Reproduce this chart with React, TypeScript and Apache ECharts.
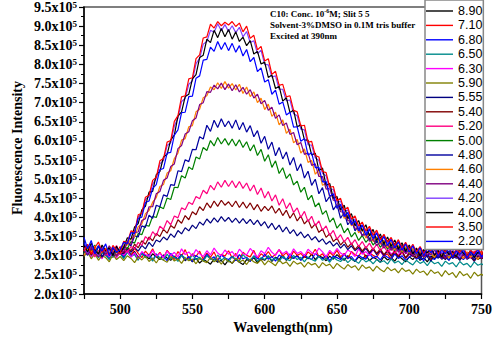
import { useEffect, useRef } from 'react';
import * as echarts from 'echarts';

// Wavelength sampling grid (nm) and value unit (values below are in units of 1e3 counts)
const START_NM = 475;
const STEP_NM = 2.5;
const UNIT = 1000;

const phLabels = ['8.90', '7.10', '6.80', '6.50', '6.30', '5.90', '5.55', '5.40', '5.20', '5.00', '4.80', '4.60', '4.40', '4.20', '4.00', '3.50', '2.20'];
const colors = ['#000000', '#ff0000', '#0000ff', '#008b8b', '#ff00ff', '#808000', '#000080', '#800000', '#ff0080', '#008000', '#0000a0', '#ff8000', '#800080', '#8040ff', '#000000', '#ff0000', '#0000ff'];

const yTicks = [200000, 950000, 50000]; // min, max, step
const xTicks = [475, 750, 25]; // min, max, step (labels every 50)

const s890 = [322,308,318,302,325,310,300,316,305,320,309,
 298,314,303,311,296,307,300,292,305,297,
 290,302,294,288,299,291,303,287,296,284,
 293,281,290,285,278,292,283,288,276,289,
 280,291,283,277,290,286,295,282,293,288,
 299,285,296,290,302,288,297,293,301,289,
 298,292,304,290,300,295,287,299,291,303,
 294,288,300,292,285,297,290,302,287,296,
 291,283,298,289,295,286,300,292,284,297,
 290,302,288,295,284,299,293,305,291,298,
 289,303,294,300,292,306,295,301,290,298,293];
const s710 = [312,328,305,319,300,322,310,296,318,307,324,
 303,315,298,320,306,295,312,301,318,297,
 309,294,314,302,290,311,299,316,293,305,
 298,312,291,307,296,310,288,304,299,313,
 294,306,290,309,301,297,314,292,305,298,
 311,296,303,316,299,308,293,312,301,306,
 295,310,302,317,298,305,291,309,300,314,
 297,306,292,311,303,298,315,294,307,301,
 296,312,299,305,290,308,301,315,293,304,
 298,311,295,306,300,318,296,303,292,309,
 301,314,297,306,293,310,299,305,296,312,300];
const s680 = [335,310,302,320,296,314,305,291,317,300,308,
 295,312,299,306,290,309,297,303,288,305,
 294,300,287,306,296,292,303,289,298,285,
 301,293,288,304,291,297,286,302,294,290,
 299,287,303,292,296,285,300,293,289,304,
 291,298,286,302,295,290,305,293,299,288,
 303,294,290,306,297,292,301,287,299,295,
 290,304,293,298,286,301,295,291,306,294,
 299,289,302,296,291,305,293,300,288,297,
 302,291,298,287,304,295,290,301,293,299,
 288,303,294,297,290,302,296,289,300,293,298];
const s650 = [305,318,299,312,294,308,301,290,314,297,306,
 292,309,298,303,288,306,295,300,286,302,
 293,289,304,291,297,285,301,294,288,303,
 290,296,286,300,292,288,302,289,295,284,
 298,291,287,303,293,289,299,286,295,290,
 300,288,294,285,298,291,287,301,290,296,
 284,297,290,286,299,288,293,283,296,289,
 285,294,282,291,287,280,293,284,289,279,
 290,283,287,278,292,281,286,277,289,282,
 276,288,280,285,274,287,279,283,272,286,
 278,282,271,285,276,280,270,284,275,279,273];
const s630 = [300,315,296,310,304,292,312,298,307,294,309,
 301,313,296,308,292,311,303,298,314,300,
 306,295,312,300,309,297,318,303,310,299,
 316,305,298,313,302,320,307,300,315,304,
 311,298,317,306,302,319,308,296,313,305,
 322,309,301,316,305,312,299,318,306,311,
 300,317,308,303,320,310,298,314,305,319,
 307,301,315,309,298,318,304,311,300,316,
 306,312,299,317,305,310,301,319,308,303,
 314,300,311,306,297,316,305,309,302,313,
 299,310,304,296,312,301,307,298,311,303,309];
const s590 = [298,310,292,305,288,301,295,284,303,290,298,
 287,300,293,282,297,289,299,285,294,281,
 296,288,283,298,286,292,280,295,287,291,
 279,293,286,282,296,284,290,278,292,285,
 281,294,283,289,277,291,284,280,290,276,
 287,281,274,289,279,284,272,286,278,282,
 270,283,276,280,268,282,274,278,266,280,
 272,265,277,269,274,262,276,267,271,260,
 273,264,258,270,261,266,255,268,259,263,
 252,265,256,260,249,263,254,258,246,261,
 250,256,243,259,248,253,241,257,247,252,244];
const s555 = [318,304,326,309,298,315,302,320,296,311,305,
 306,318,309,322,312,327,318,335,324,341,
 336,349,341,357,348,366,357,373,365,380,
 371,388,380,396,385,399,388,402,390,400,
 387,398,385,397,384,395,381,393,378,389,
 372,385,368,380,362,375,358,368,352,362,
 347,356,341,350,336,344,330,338,325,334,
 320,330,316,326,313,322,309,319,306,317,
 303,314,300,312,298,309,296,311,294,306,
 299,308,292,305,297,286,303,294,300,290,
 304,293,299,288,302,291,297,285,300,292,296];
const s540 = [310,324,302,317,308,296,313,305,321,299,315,
 308,322,313,330,321,339,330,349,339,358,
 350,369,359,379,372,394,385,405,394,415,
 407,428,418,438,425,443,429,445,432,441,
 428,443,426,440,424,438,420,434,416,429,
 418,430,411,424,405,419,398,412,391,404,
 383,394,372,383,361,370,348,358,337,346,
 328,339,322,333,316,327,312,324,309,320,
 306,318,303,314,300,312,298,309,295,307,
 301,294,308,297,303,290,306,296,301,292,
 305,295,300,289,303,294,298,287,302,293,297];
const s520 = [325,306,318,297,313,322,301,316,308,327,303,
 317,309,324,318,335,327,350,341,363,352,
 377,369,392,381,404,399,425,420,440,434,
 455,449,471,462,484,472,493,479,497,481,
 496,478,494,476,490,469,485,460,477,451,
 468,443,459,432,449,423,438,413,425,400,
 416,389,403,378,391,366,378,353,366,343,
 355,336,348,329,342,324,337,320,333,316,
 330,313,325,309,322,306,320,304,317,310,
 302,318,307,314,299,316,305,311,297,313,
 304,309,296,315,303,307,294,312,301,306,298];
const s500 = [308,322,311,328,300,316,305,319,296,313,307,
 324,318,337,333,358,355,380,377,403,400,
 428,423,451,447,479,478,509,503,532,525,
 558,553,583,575,601,587,609,592,606,589,
 605,587,603,583,598,574,590,562,578,547,
 564,531,548,515,530,502,514,485,495,466,
 479,446,458,428,438,408,418,388,399,372,
 384,360,372,349,361,340,353,335,346,328,
 340,322,334,317,330,313,326,309,322,306,
 318,302,314,299,311,305,296,313,301,308,
 295,310,303,298,312,300,306,293,309,297,304];
const s480 = [314,301,320,308,326,297,312,318,303,321,310,
 318,334,326,352,349,378,374,406,398,432,
 428,459,455,486,484,522,520,551,546,578,
 577,611,605,641,625,654,635,658,637,652,
 633,655,629,648,623,640,611,627,594,612,
 578,597,561,583,553,571,537,557,522,540,
 503,521,484,500,462,478,441,455,420,434,
 398,413,381,394,365,378,352,367,343,356,
 334,349,326,340,319,333,314,327,309,322,
 305,318,300,314,297,311,302,294,309,298,
 312,296,305,291,308,299,303,289,306,295,301];
const s460 = [302,317,309,325,298,311,320,306,314,299,318,
 326,328,345,350,376,383,410,418,440,452,
 481,486,516,522,554,568,602,606,637,640,
 676,683,713,718,741,734,752,737,755,738,
 750,733,748,724,741,716,728,700,712,682,
 696,664,675,642,655,620,631,595,604,568,
 579,544,549,513,524,484,489,454,460,425,
 432,398,405,378,386,360,371,346,359,337,
 349,330,341,321,335,316,328,311,324,307,
 319,303,315,299,312,306,296,313,301,309,
 294,311,300,306,292,309,297,303,290,307,298];
const s440 = [316,303,322,308,297,319,305,326,311,300,314,
 310,336,329,361,362,392,397,428,428,462,
 468,497,503,533,540,580,588,618,624,653,
 660,695,700,729,727,746,736,751,734,749,
 731,747,728,740,722,734,712,722,697,706,
 680,688,659,668,640,647,617,622,590,596,
 565,569,536,540,507,507,474,476,445,443,
 415,414,392,389,372,371,353,356,338,343,
 327,336,320,330,314,326,309,321,305,316,
 300,313,306,297,310,302,315,299,307,293,
 308,300,312,296,304,291,310,298,303,294,306];
const s420 = [320,307,329,312,301,324,309,316,298,322,311,
 336,333,361,362,402,410,447,455,487,502,
 540,549,588,595,639,660,703,711,748,757,
 802,816,853,860,889,884,906,888,904,886,
 901,883,897,872,886,857,862,828,837,800,
 799,767,770,735,735,705,707,671,666,631,
 629,590,589,556,549,515,509,475,473,440,
 443,415,420,392,396,375,381,362,372,352,
 363,340,351,333,344,325,337,318,331,312,
 326,308,322,305,319,311,302,316,307,313,
 300,315,306,296,311,303,309,294,305,299,307];
const s400 = [326,310,333,315,304,328,312,321,300,325,308,
 322,347,343,375,384,420,429,466,468,512,
 520,558,565,603,615,665,676,716,722,762,
 773,818,824,866,857,889,870,894,872,891,
 866,885,860,871,849,862,827,834,801,806,
 766,772,737,743,704,713,674,681,637,642,
 603,602,563,568,523,529,484,489,450,455,
 420,432,397,410,378,392,364,381,352,369,
 340,357,331,349,324,341,318,334,312,328,
 305,320,299,316,307,322,301,314,296,318,
 303,311,297,319,306,300,315,295,309,302,312];
const s350 = [312,330,305,321,336,309,318,302,327,314,306,
 338,334,365,362,407,411,453,458,497,505,
 548,554,597,601,651,666,715,718,762,765,
 815,825,869,872,905,895,912,901,910,903,
 912,899,908,885,900,868,876,838,847,809,
 815,774,782,745,748,715,718,680,676,639,
 641,597,599,562,558,520,517,479,481,444,
 450,419,427,396,404,378,388,365,377,354,
 367,342,356,336,348,326,342,320,335,315,
 330,310,324,306,321,312,327,303,318,309,
 322,301,316,308,325,299,314,306,320,302,311];
const s220 = [348,318,340,305,326,312,331,300,322,309,316,
 335,332,360,358,398,401,439,443,476,486,
 525,528,568,570,615,629,674,675,716,717,
 764,770,811,813,845,834,860,839,857,836,
 855,832,849,822,839,807,818,781,791,754,
 760,722,733,696,702,668,675,636,637,599,
 606,563,569,530,531,493,494,455,462,424,
 434,402,413,381,392,365,380,354,369,344,
 359,334,350,327,342,320,336,314,331,309,
 326,304,321,300,318,308,324,298,315,305,
 320,296,313,303,317,294,310,301,316,297,308];

const seriesValues = [s890, s710, s680, s650, s630, s590, s555, s540, s520, s500, s480, s460, s440, s420, s400, s350, s220];

const SERIF = '"Liberation Serif", "Times New Roman", serif';
const SANS = '"Liberation Sans", Arial, sans-serif';

// Legend icon: thin horizontal line, with invisible corner points so the box keeps its 27x14 size
const LEGEND_LINE_ICON = 'path://M0,0L0,0M27,14L27,14M0,6.3L27,6.3L27,7.7L0,7.7Z';

export default function App() {
  const ref = useRef<HTMLDivElement>(null);
  useEffect(() => {
    if (!ref.current) return;
    const chart = echarts.init(ref.current, null, { renderer: 'svg' });
    const option: any = {
      animation: false,
      backgroundColor: '#ffffff',
      grid: {
        left: 84, right: 17.5, top: 1.5, bottom: 55,
        show: true, borderColor: '#555555', borderWidth: 1.5, backgroundColor: 'transparent',
      },
      xAxis: {
        type: 'value', min: xTicks[0], max: xTicks[1], interval: xTicks[2],
        axisLine: { show: true, lineStyle: { color: '#000', width: 1.5 } },
        axisTick: { show: true, inside: false, length: 5, lineStyle: { color: '#000', width: 1.2 } },
        splitLine: { show: false },
        axisLabel: {
          margin: 8, color: '#000', fontFamily: SERIF, fontWeight: 'bold', fontSize: 14,
          formatter: (v: number) => (v % 50 === 0 ? String(v) : ''),
        },
      },
      yAxis: {
        type: 'value', min: yTicks[0], max: yTicks[1], interval: yTicks[2],
        axisLine: { show: true, lineStyle: { color: '#000', width: 1.5 } },
        axisTick: { show: true, inside: false, length: 5, lineStyle: { color: '#000', width: 1.2 } },
        minorTick: { show: true, splitNumber: 2, length: 3, lineStyle: { color: '#000', width: 1 } },
        splitLine: { show: false },
        axisLabel: {
          margin: 7, color: '#000',
          formatter: (v: number) => `{m|${(v / 100000).toFixed(1)}x10}{s|5}`,
          rich: {
            m: { fontFamily: SERIF, fontWeight: 'bold', fontSize: 14, color: '#000' },
            s: { fontFamily: SERIF, fontWeight: 'bold', fontSize: 9, color: '#000', verticalAlign: 'top' },
          },
        },
      },
      legend: {
        type: 'plain', orient: 'vertical', left: 425, top: 0,
        padding: [4, 1, 1, 1],
        icon: LEGEND_LINE_ICON,
        itemWidth: 27, itemHeight: 14, itemGap: 0.4, itemTextGap: 2,
        itemStyle: { borderWidth: 0 },
        backgroundColor: '#ffffff', borderColor: '#888888', borderWidth: 1.5,
        textStyle: { fontFamily: SANS, fontSize: 12.5, color: '#000' },
        data: phLabels,
      },
      graphic: [
        {
          type: 'text', x: 17, y: 148, rotation: Math.PI / 2, z: 100,
          style: { text: 'Fluorescence Intensity', fontFamily: SERIF, fontWeight: 'bold', fontSize: 14, fill: '#000', align: 'center', verticalAlign: 'middle' },
        },
        {
          type: 'text', x: 283, y: 327, z: 100,
          style: { text: 'Wavelength(nm)', fontFamily: SERIF, fontWeight: 'bold', fontSize: 14, fill: '#000', align: 'center', verticalAlign: 'middle' },
        },
        {
          type: 'text', x: 270, y: 8, z: 100,
          style: {
            text: '{a|C10: Conc. 10}{s|-6}{a|M; Slit 5 5}\n{a|Solvent-3%DMSO in 0.1M tris buffer}\n{a|Excited at 390nm}',
            rich: {
              a: { fontFamily: SERIF, fontWeight: 'bold', fontSize: 9, fill: '#000', lineHeight: 11 },
              s: { fontFamily: SERIF, fontWeight: 'bold', fontSize: 6, fill: '#000', verticalAlign: 'top', lineHeight: 11 },
            },
          },
        },
      ],
      series: phLabels.map((name, k) => ({
        name,
        type: 'line',
        symbol: 'none',
        clip: true,
        lineStyle: { width: 1.2, color: colors[k] },
        itemStyle: { color: colors[k] },
        data: seriesValues[k].map((v, i) => [START_NM + STEP_NM * i, v * UNIT]),
      })),
    };
    chart.setOption(option);
    return () => chart.dispose();
  }, []);
  return <div ref={ref} style={{ position: 'absolute', left: 0, top: 0, width: 499, height: 349 }} />;
}
